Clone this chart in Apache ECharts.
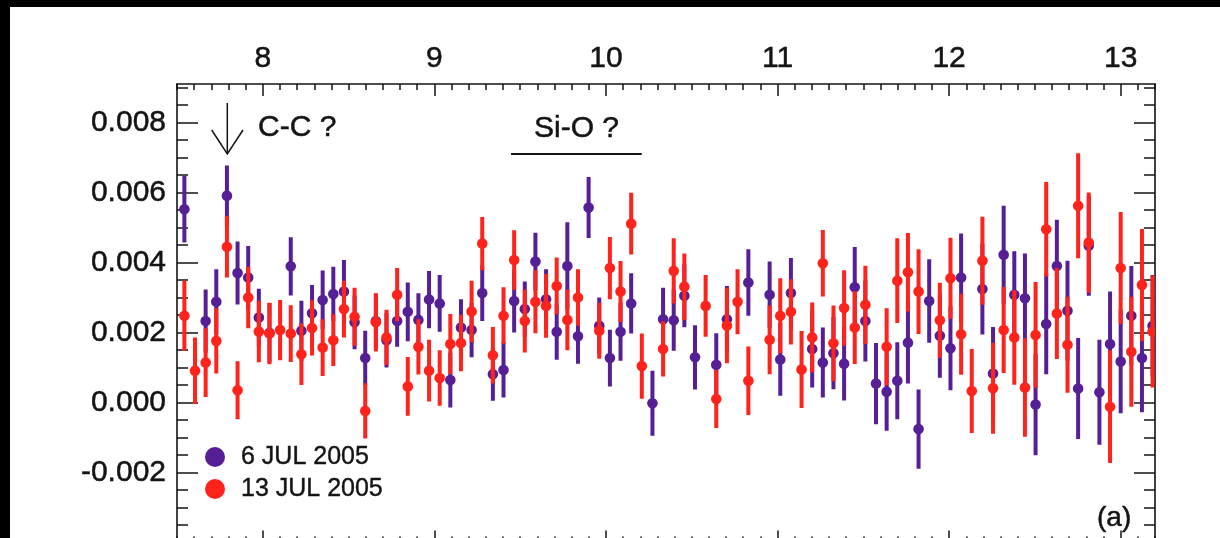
<!DOCTYPE html>
<html>
<head>
<meta charset="utf-8">
<script src="https://cdn.jsdelivr.net/npm/echarts@6/dist/echarts.min.js"></script>
<style>
  html, body { margin: 0; padding: 0; width: 1220px; height: 538px; overflow: hidden; background: #000; }
  #chart { position: absolute; left: 10px; top: 7px; width: 1210px; height: 545px; background: #fff; }
</style>
</head>
<body>
<div id="chart"></div>
<script>
// Wavelength grid (micron)
const wavelength = [
  7.543, 7.605, 7.667, 7.729, 7.791, 7.853, 7.915, 7.977, 8.039, 8.101,
  8.163, 8.225, 8.287, 8.349, 8.411, 8.473, 8.535, 8.597, 8.659, 8.721,
  8.783, 8.845, 8.907, 8.969, 9.031, 9.093, 9.155, 9.217, 9.279, 9.341,
  9.403, 9.465, 9.527, 9.589, 9.651, 9.713, 9.775, 9.837, 9.899, 9.961,
  10.023, 10.085, 10.147, 10.209, 10.271, 10.333, 10.395, 10.457, 10.519, 10.581,
  10.643, 10.705, 10.767, 10.830, 10.892, 10.954, 11.016, 11.078, 11.140, 11.202,
  11.264, 11.326, 11.388, 11.450, 11.512, 11.574, 11.636, 11.698, 11.760, 11.822,
  11.884, 11.946, 12.008, 12.070, 12.132, 12.194, 12.256, 12.318, 12.380, 12.442,
  12.504, 12.566, 12.628, 12.690, 12.752, 12.814, 12.876, 12.938, 13.000, 13.062,
  13.124, 13.186
];

// 6 JUL 2005: values and 1-sigma errors
const jul06 = [
  0.00552, null, 0.00233, 0.00288, 0.00591, 0.00370, 0.00357, 0.00243, 0.00199, null,
  0.00389, 0.00205, 0.00255, 0.00293, 0.00310, 0.00317, 0.00229, 0.00127, 0.00233, 0.00178,
  0.00233, 0.00259, 0.00236, 0.00294, 0.00283, 0.00064, 0.00214, 0.00207, 0.00313, 0.00081,
  0.00093, 0.00290, 0.00267, 0.00403, 0.00295, 0.00202, 0.00390, 0.00189, 0.00557, 0.00219,
  0.00127, 0.00202, 0.00283, null, -0.00002, 0.00238, 0.00235, 0.00305, 0.00129, null,
  0.00108, 0.00238, null, 0.00343, null, 0.00308, 0.00123, 0.00313, null, 0.00153,
  0.00114, 0.00141, 0.00111, 0.00329, 0.00233, 0.00054, 0.00031, 0.00062, 0.00171, -0.00076,
  0.00290, 0.00191, 0.00155, 0.00357, null, 0.00324, 0.00083, 0.00422, 0.00308, 0.00298,
  -0.00006, 0.00224, 0.00390, 0.00262, 0.00040, 0.00448, 0.00029, 0.00167, 0.00117, 0.00248,
  0.00127, 0.00219
];
const jul06Err = [
  0.00095, null, 0.00090, 0.00093, 0.00086, 0.00090, 0.00090, 0.00082, 0.00085, null,
  0.00083, 0.00086, 0.00081, 0.00084, 0.00078, 0.00090, 0.00077, 0.00078, 0.00078, 0.00078,
  0.00074, 0.00084, 0.00076, 0.00082, 0.00081, 0.00078, 0.00081, 0.00078, 0.00080, 0.00076,
  0.00079, 0.00090, 0.00079, 0.00082, 0.00086, 0.00080, 0.00125, 0.00078, 0.00087, 0.00081,
  0.00081, 0.00083, 0.00086, null, 0.00093, 0.00090, 0.00087, 0.00090, 0.00092, null,
  0.00090, 0.00095, null, 0.00095, null, 0.00095, 0.00104, 0.00100, null, 0.00110,
  0.00100, 0.00103, 0.00105, 0.00115, 0.00116, 0.00116, 0.00112, 0.00110, 0.00117, 0.00113,
  0.00119, 0.00120, 0.00120, 0.00126, null, 0.00130, 0.00133, 0.00140, 0.00124, 0.00128,
  0.00145, 0.00143, 0.00132, 0.00143, 0.00144, 0.00143, 0.00150, 0.00150, 0.00148, 0.00142,
  0.00155, 0.00145
];

// 13 JUL 2005: values and 1-sigma errors
const jul13 = [
  0.00248, 0.00091, 0.00114, 0.00176, 0.00445, 0.00035, 0.00300, 0.00203, 0.00197, 0.00207,
  0.00197, 0.00138, 0.00213, 0.00157, 0.00178, 0.00267, 0.00245, -0.00024, 0.00229, 0.00186,
  0.00308, 0.00046, 0.00159, 0.00091, 0.00070, 0.00167, 0.00170, 0.00260, 0.00454, 0.00135,
  0.00248, 0.00407, 0.00233, 0.00288, 0.00276, 0.00333, 0.00236, 0.00300, null, 0.00205,
  0.00384, 0.00317, 0.00511, 0.00104, null, 0.00153, 0.00376, 0.00331, null, 0.00276,
  0.00010, 0.00220, 0.00288, 0.00062, null, 0.00179, 0.00248, 0.00259, 0.00094, 0.00186,
  0.00398, 0.00169, 0.00270, 0.00214, 0.00279, null, 0.00159, 0.00348, 0.00372, 0.00317,
  null, 0.00235, 0.00355, 0.00195, 0.00033, 0.00405, 0.00041, 0.00207, 0.00186, 0.00043,
  0.00193, 0.00495, 0.00254, 0.00165, 0.00562, 0.00457, null, -0.00012, 0.00384, 0.00145,
  0.00336, 0.00203
];
const jul13Err = [
  0.00100, 0.00095, 0.00098, 0.00093, 0.00088, 0.00083, 0.00088, 0.00088, 0.00088, 0.00086,
  0.00081, 0.00088, 0.00079, 0.00081, 0.00074, 0.00081, 0.00083, 0.00079, 0.00083, 0.00079,
  0.00076, 0.00084, 0.00079, 0.00088, 0.00079, 0.00086, 0.00081, 0.00088, 0.00076, 0.00081,
  0.00081, 0.00085, 0.00090, 0.00090, 0.00091, 0.00081, 0.00087, 0.00081, null, 0.00080,
  0.00089, 0.00087, 0.00088, 0.00093, null, 0.00079, 0.00093, 0.00095, null, 0.00088,
  0.00083, 0.00108, 0.00093, 0.00098, null, 0.00098, 0.00107, 0.00093, 0.00110, 0.00100,
  0.00095, 0.00108, 0.00108, 0.00104, 0.00112, null, 0.00110, 0.00121, 0.00112, 0.00121,
  null, 0.00107, 0.00116, 0.00116, 0.00120, 0.00126, 0.00130, 0.00123, 0.00135, 0.00141,
  0.00151, 0.00135, 0.00130, 0.00137, 0.00150, 0.00143, null, 0.00161, 0.00160, 0.00157,
  0.00160, 0.00160
];

// Axis ticks and labels
const xMajorTicks = [8, 9, 10, 11, 12, 13];
const yMajorTicks = [-0.002, 0.000, 0.002, 0.004, 0.006, 0.008];
const xRange = [7.5, 13.2];
const yRange = [-0.004, 0.0091];

const seriesNames = ['6 JUL 2005', '13 JUL 2005'];
const PURPLE = '#561f96';
const RED = '#ff231c';
const INK = '#141414';
const FONT = '"Liberation Sans", Arial, Helvetica, sans-serif';

// Minor tick positions: every 0.1 in x, every 0.0005 in y
const xMinorTicks = [];
for (let i = Math.round(xRange[0] * 10); i <= Math.round(xRange[1] * 10); i++) xMinorTicks.push(i / 10);
const yMinorTicks = [];
for (let i = Math.round(yRange[0] * 2000); i <= Math.floor(yRange[1] * 2000); i++) yMinorTicks.push(i / 2000);

function toPoints(values, errors) {
  const pts = [];
  for (let i = 0; i < wavelength.length; i++) {
    if (values[i] === null || errors[i] === null) continue;
    pts.push([wavelength[i], values[i], errors[i]]);
  }
  return pts;
}

// Vertical error bar with a filled dot at the measured value
function errorBarRenderer(color) {
  return function (params, api) {
    const x = api.value(0), y = api.value(1), e = api.value(2);
    const c = api.coord([x, y]);
    const hi = api.coord([x, y + e]);
    const lo = api.coord([x, y - e]);
    const cs = params.coordSys;
    return {
      type: 'group',
      clipPath: { type: 'rect', shape: { x: cs.x, y: cs.y, width: cs.width, height: cs.height } },
      children: [
        { type: 'line', shape: { x1: c[0], y1: hi[1], x2: c[0], y2: lo[1] },
          style: { stroke: color, lineWidth: 4 } },
        { type: 'circle', shape: { cx: c[0], cy: c[1], r: 5.3 }, style: { fill: color } }
      ]
    };
  };
}

const lineStyle = { color: INK, width: 1.6 };
const labelInk = { color: INK, textBorderColor: INK, textBorderWidth: 0.5 };

function xAxisDef(position, values, len, withLabels, withLine) {
  return {
    type: 'value', position: position, min: xRange[0], max: xRange[1],
    axisLine: { show: withLine, onZero: false, lineStyle: lineStyle },
    axisTick: { show: true, inside: true, length: len, customValues: values, lineStyle: { color: INK, width: 1.5 } },
    axisLabel: withLabels ? Object.assign({
      show: true, customValues: values, margin: 10, fontSize: 30, fontFamily: FONT,
      formatter: v => String(v)
    }, labelInk) : { show: false },
    splitLine: { show: false }
  };
}
function yAxisDef(position, values, len, withLabels, withLine) {
  return {
    type: 'value', position: position, min: yRange[0], max: yRange[1],
    axisLine: { show: withLine, onZero: false, lineStyle: lineStyle },
    axisTick: { show: true, inside: true, length: len, customValues: values, lineStyle: { color: INK, width: 1.5 } },
    axisLabel: withLabels ? Object.assign({
      show: true, customValues: values, margin: 11, fontSize: 30, fontFamily: FONT,
      padding: [11, 0, 0, 0],
      formatter: v => v.toFixed(3)
    }, labelInk) : { show: false },
    splitLine: { show: false }
  };
}

const annotationText = (text, size, extra) => Object.assign({
  text: text, font: size + 'px ' + FONT, fill: INK, stroke: INK, lineWidth: 0.5, textVerticalAlign: 'middle'
}, extra || {});

const chart = echarts.init(document.getElementById('chart'));
chart.setOption({
  animation: false,
  backgroundColor: '#fff',
  grid: { left: 167, top: 77, right: 65, bottom: 9.5, containLabel: false },
  xAxis: [
    xAxisDef('top', xMajorTicks, 12, true, true),
    xAxisDef('top', xMinorTicks, 6, false, false),
    xAxisDef('bottom', xMajorTicks, 12, false, true),
    xAxisDef('bottom', xMinorTicks, 6, false, false)
  ],
  yAxis: [
    yAxisDef('left', yMajorTicks, 21, true, true),
    yAxisDef('left', yMinorTicks, 11, false, false),
    yAxisDef('right', yMajorTicks, 21, false, true),
    yAxisDef('right', yMinorTicks, 11, false, false)
  ],
  legend: {
    orient: 'vertical', left: 195, top: 437, padding: 0, itemGap: 6,
    itemWidth: 42, itemHeight: 20, selectedMode: false,
    textStyle: { fontSize: 25, fontFamily: FONT, color: INK, lineHeight: 26, textBorderColor: INK, textBorderWidth: 0.4 },
    data: [
      { name: seriesNames[0], icon: 'circle', itemStyle: { color: PURPLE } },
      { name: seriesNames[1], icon: 'circle', itemStyle: { color: RED } }
    ]
  },
  series: [
    { name: seriesNames[0], type: 'custom', xAxisIndex: 0, yAxisIndex: 0,
      itemStyle: { color: PURPLE }, renderItem: errorBarRenderer(PURPLE),
      encode: { x: 0, y: 1 }, data: toPoints(jul06, jul06Err), z: 2 },
    { name: seriesNames[1], type: 'custom', xAxisIndex: 0, yAxisIndex: 0,
      itemStyle: { color: RED }, renderItem: errorBarRenderer(RED),
      encode: { x: 0, y: 1 }, data: toPoints(jul13, jul13Err), z: 3 }
  ],
  graphic: [
    // C-C arrow
    { type: 'polyline', shape: { points: [[217.3, 96], [217.3, 147]] }, style: { stroke: INK, lineWidth: 1.5, fill: null } },
    { type: 'polyline', shape: { points: [[201.7, 123], [217.3, 147], [233, 123]] }, style: { stroke: INK, lineWidth: 1.5, fill: null } },
    { type: 'text', x: 248, y: 120.5, style: annotationText('C-C ?', 30) },
    // Si-O band
    { type: 'text', x: 566.5, y: 121.5, style: annotationText('Si-O ?', 30, { textAlign: 'center' }) },
    { type: 'line', shape: { x1: 501, y1: 147, x2: 631.7, y2: 147 }, style: { stroke: INK, lineWidth: 2 } },
    // Panel tag
    { type: 'text', x: 1087, y: 511, style: annotationText('(a)', 28) }
  ]
});
</script>
</body>
</html>
